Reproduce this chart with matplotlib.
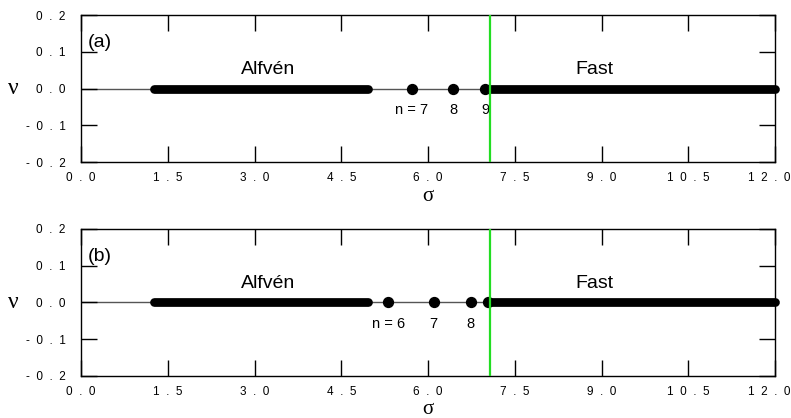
import matplotlib
matplotlib.use("Agg")
import matplotlib.pyplot as plt

# spectra (sigma values)
cutoff = 7.07
sigma_ticks = [0.0, 1.5, 3.0, 4.5, 6.0, 7.5, 9.0, 10.5, 12.0]
sigma_labels = ["0.0", "1.5", "3.0", "4.5", "6.0", "7.5", "9.0", "10.5", "12.0"]
nu_ticks = [-0.2, -0.1, 0.0, 0.1, 0.2]
nu_labels = ["-0.2", "-0.1", "0.0", "0.1", "0.2"]

alfven_a = [1.26, 4.96]
fast_a = [7.07, 12.0]
discrete_a = [5.72, 6.44, 6.99]
discrete_labels_a = ["n = 7", "8", "9"]

alfven_b = [1.26, 4.96]
fast_b = [7.07, 12.0]
discrete_b = [5.31, 6.10, 6.74, 7.04]
discrete_labels_b = ["n = 6", "7", "8", ""]

panels = [
    ("(a)", alfven_a, fast_a, discrete_a, discrete_labels_a),
    ("(b)", alfven_b, fast_b, discrete_b, discrete_labels_b),
]


def spaced(s):
    # old plotting package wrote tick labels with wide letter spacing
    return "  ".join(s)


fig = plt.figure(figsize=(7.91, 4.18), dpi=100)
rects = [[0.1024, 0.6124, 0.8774, 0.3517], [0.1024, 0.1005, 0.8774, 0.3517]]
tick_font = dict(family="Liberation Sans", size=8.5)

for rect, (tag, alf, fast, disc, disc_lab) in zip(rects, panels):
    ax = fig.add_axes(rect)
    ax.set_xlim(0, 12)
    ax.set_ylim(-0.2, 0.2)
    ax.axhline(0, color="#555555", lw=1.0, zorder=1)
    ax.axvline(cutoff, color="#22dd22", lw=1.6, zorder=4)

    ms = 6.3
    ax.plot(alf, [0, 0], color="black", lw=ms, solid_capstyle="round", zorder=3)
    ax.plot(fast, [0, 0], color="black", lw=ms, solid_capstyle="round", zorder=3,
            clip_on=False)
    ax.plot(disc, [0] * len(disc), "o", color="black", ms=ms + 0.8, zorder=3)
    for x, lab in zip(disc, disc_lab):
        ax.text(x, -0.058, lab, ha="center", va="center", fontsize=10.5,
                family="Liberation Sans")

    ax.text(3.24, 0.053, "Alfvén", ha="center", va="center", fontsize=14,
            family="Liberation Sans")
    ax.text(8.87, 0.053, "Fast", ha="center", va="center", fontsize=14,
            family="Liberation Sans")
    ax.text(0.33, 0.126, tag, ha="center", va="center", fontsize=14,
            family="Liberation Sans")

    ax.set_xticks(sigma_ticks)
    # last label sits flush against the right edge of the figure
    ax.set_xticklabels([spaced(s) for s in sigma_labels[:-1]] + [""])
    ax.annotate(spaced(sigma_labels[-1]), xy=(1, 0), xycoords="axes fraction",
                xytext=(11, -7.5), textcoords="offset points", ha="right",
                va="top", **{"fontfamily": tick_font["family"],
                             "fontsize": tick_font["size"]})
    ax.set_yticks(nu_ticks)
    ax.set_yticklabels([spaced(s) for s in nu_labels])
    ax.tick_params(direction="in", length=11.5, width=1.0, top=True, right=True,
                   labelsize=tick_font["size"], colors="black")
    ax.tick_params(axis="x", pad=7)
    ax.tick_params(axis="y", pad=11)
    for lab in ax.get_xticklabels() + ax.get_yticklabels():
        lab.set_family(tick_font["family"])
    for sp in ax.spines.values():
        sp.set_linewidth(1.0)

    ax.set_xlabel("σ", fontsize=15, family="Liberation Serif", labelpad=2)
    ax.text(-0.098, 0.5, "ν", transform=ax.transAxes, ha="center", va="center",
            fontsize=17, family="Liberation Serif")

fig.savefig("out.png", dpi=100)
